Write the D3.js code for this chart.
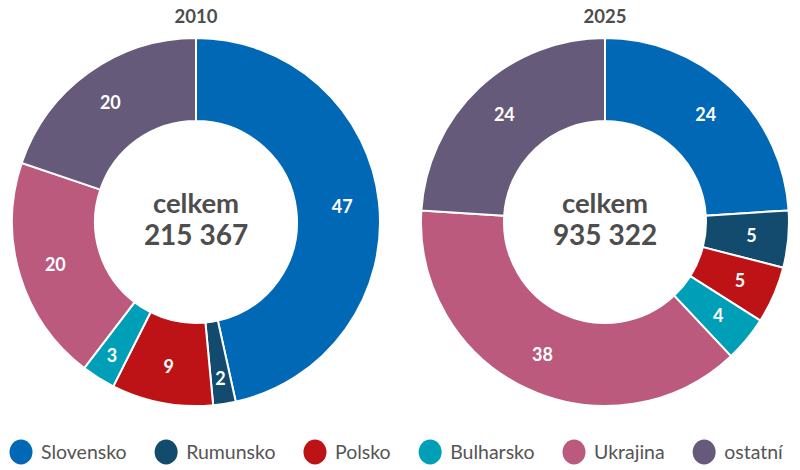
<!DOCTYPE html>
<html>
<head>
<meta charset="utf-8">
<script src="https://cdn.jsdelivr.net/npm/d3@7"></script>
<style>
  html, body { margin: 0; padding: 0; background: #fff; }
  svg { display: block; font-family: Lato, "Open Sans", sans-serif; }
</style>
</head>
<body>
<svg id="chart" width="800" height="470"></svg>
<script>
// ---- data ----
const categories = ["Slovensko", "Rumunsko", "Polsko", "Bulharsko", "Ukrajina", "ostatní"];
const colors = ["#0068b4", "#124b6d", "#bd1316", "#009fb8", "#bb5a7d", "#665a7a"];
const years = ["2010", "2025"];
const values2010 = [47, 2, 9, 3, 20, 20];
const values2025 = [24, 5, 5, 4, 38, 24];
const totals = ["215 367", "935 322"];
const centerLabel = "celkem";

const seriesList = [values2010, values2025];

const svg = d3.select("#chart");
const textColor = "#4d4d4d";

const outerR = 184, innerR = 101;
const centersX = [196, 605];
const centerY = 222;

const pie = d3.pie().sort(null).value(d => d.v);
const arc = d3.arc().innerRadius(innerR).outerRadius(outerR);
const labelArc = d3.arc().innerRadius(147).outerRadius(147);
const labelArcSmall = d3.arc().innerRadius(158).outerRadius(158);

seriesList.forEach((vals, i) => {
  const g = svg.append("g").attr("transform", `translate(${centersX[i]},${centerY})`);
  const data = pie(vals.map((v, k) => ({ v, k })));

  g.selectAll("path.slice")
    .data(data)
    .join("path")
    .attr("class", "slice")
    .attr("d", arc)
    .attr("fill", d => colors[d.data.k])
    .attr("stroke", "#fff")
    .attr("stroke-width", 2)
    .attr("stroke-linejoin", "miter");

  g.selectAll("text.val")
    .data(data)
    .join("text")
    .attr("class", "val")
    .attr("transform", d => {
      const small = (d.endAngle - d.startAngle) < 0.21;
      const c = (small ? labelArcSmall : labelArc).centroid(d);
      return `translate(${c[0]},${c[1]})`;
    })
    .attr("text-anchor", "middle")
    .attr("dy", "0.36em")
    .attr("fill", "#fff")
    .attr("font-weight", 700)
    .attr("font-size", 18)
    .text(d => d.data.v);

  // year title
  g.append("text")
    .attr("x", 0)
    .attr("y", -centerY + 23)
    .attr("text-anchor", "middle")
    .attr("fill", textColor)
    .attr("font-weight", 700)
    .attr("font-size", 18.5)
    .text(years[i]);

  // center text
  g.append("text")
    .attr("x", 0)
    .attr("y", 213 - centerY)
    .attr("text-anchor", "middle")
    .attr("fill", textColor)
    .attr("font-weight", 700)
    .attr("font-size", 27.5)
    .text(centerLabel);
  g.append("text")
    .attr("x", 0)
    .attr("y", 245 - centerY)
    .attr("text-anchor", "middle")
    .attr("fill", textColor)
    .attr("font-weight", 700)
    .attr("font-size", 28)
    .text(totals[i]);
});

// ---- legend ----
const legend = svg.append("g").attr("transform", "translate(0,452)");
let x = 21;
categories.forEach((c, k) => {
  const item = legend.append("g");
  item.append("ellipse")
    .attr("cx", x).attr("cy", 0)
    .attr("rx", 11.5).attr("ry", 12.5)
    .attr("fill", colors[k]);
  const t = item.append("text")
    .attr("x", x + 20)
    .attr("y", 7)
    .attr("fill", "#555")
    .attr("font-size", 19.5)
    .attr("font-weight", 400)
    .text(c);
  const w = t.node().getComputedTextLength();
  x = x + 20 + w + 28 + 11.5;
});
</script>
</body>
</html>
